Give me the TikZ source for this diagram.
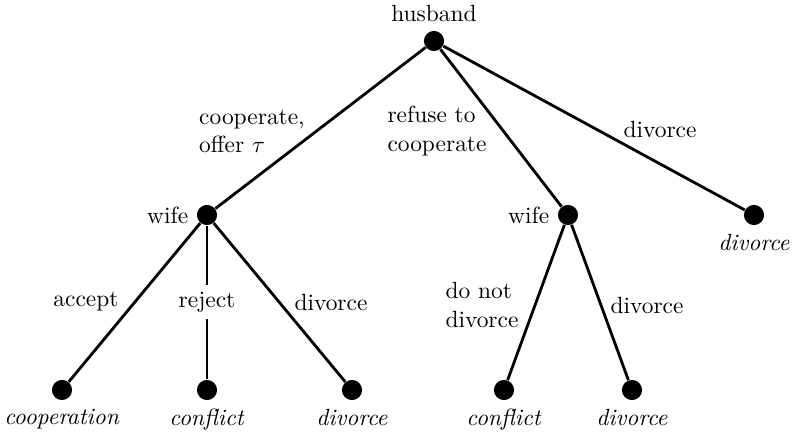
\documentclass[tikz,border=0pt]{standalone}
\usepackage{amsmath,amssymb}
\usepackage{tikz}
\usetikzlibrary{positioning,calc}

\begin{document}
\begin{tikzpicture}[x=0.015cm,y=-0.015cm,
  player/.style={circle,fill=black,inner sep=0pt,minimum size=8.6pt},
  branch/.style={line width=1.2pt},
  move/.style={align=left,inner sep=1pt}]
\useasboundingbox (0,0) rectangle (794,433);
% decision nodes
\node[player,label=above:husband] (h) at (434,41) {};
\node[player,label=left:wife] (w1) at (207,215) {};
\node[player,label=left:wife] (w2) at (568,215) {};
% outcomes
\node[player,label=below:\textit{divorce}] (d0) at (754,215) {};
\node[player,label=below:\textit{cooperation}] (o1) at (62,390) {};
\node[player,label=below:\textit{conflict}] (o2) at (207,390) {};
\node[player,label=below:\textit{divorce}] (o3) at (352,390) {};
\node[player,label=below:\textit{conflict}] (o4) at (504,390) {};
\node[player,label=below:\textit{divorce}] (o5) at (632,390) {};
% branches
\draw[branch] (h) -- (w1);
\draw[branch] (h) -- (w2);
\draw[branch] (h) -- (d0);
\draw[branch] (w1) -- (o1);
\draw[branch] (w1) -- (o2);
\draw[branch] (w1) -- (o3);
\draw[branch] (w2) -- (o4);
\draw[branch] (w2) -- (o5);
% labels on the branches
\node[move] (coop) at (252,131) {cooperate,\\offer $\tau$};
\node[move] (refuse) at (437,131) {refuse to\\cooperate};
\node[move] (hdiv) at (660,130) {divorce};
\node[move] (acc) at (86,302) {accept};
\node[move,fill=white,inner sep=3pt] (rej) at (207,302) {reject};
\node[move] (wdiv1) at (331,302) {divorce};
\node[move] (stay) at (482,305) {do not\\divorce};
\node[move] (wdiv2) at (647,305) {divorce};
\end{tikzpicture}
\end{document}
